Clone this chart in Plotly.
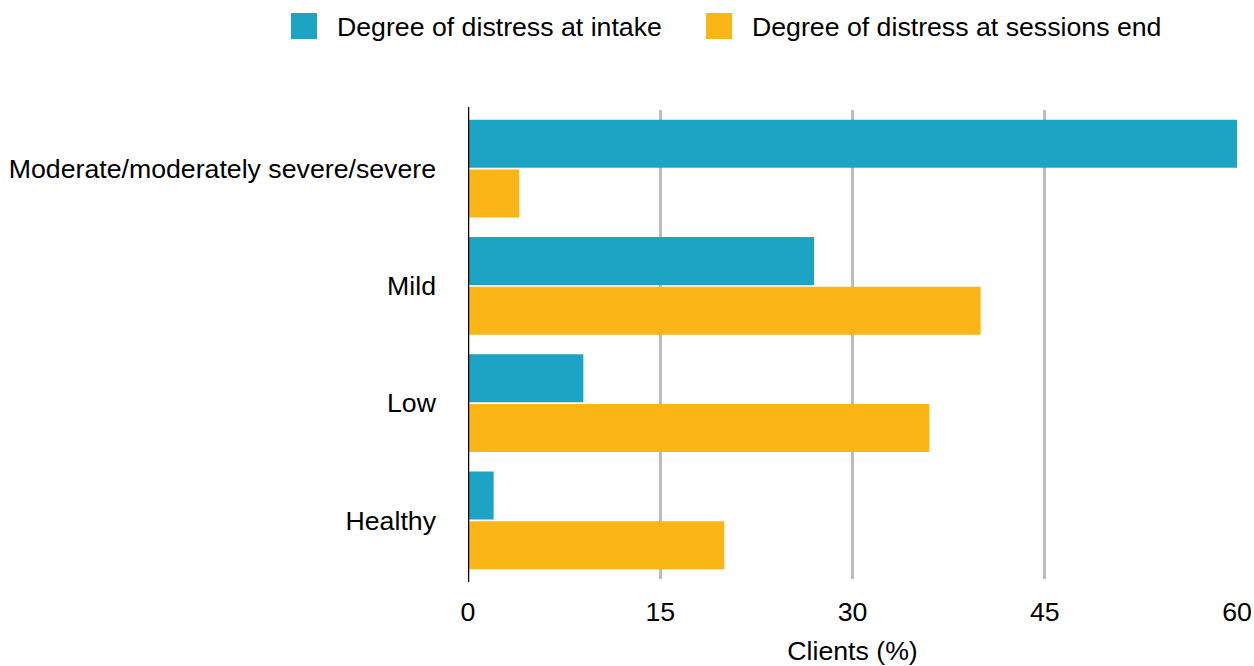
import plotly.graph_objects as go

categories = ["Moderate/moderately severe/severe", "Mild", "Low", "Healthy"]
intake = [60, 27, 9, 2]
sessions_end = [4, 40, 36, 20]
series_names = ["Degree of distress at intake", "Degree of distress at sessions end"]
colors = ["#1DA4C5", "#FBB517"]
x_ticks = [0, 15, 30, 45, 60]

W, H = 1254, 666
L, R, T, B = 468, 17, 110, 87
PW, PH = W - L - R, H - T - B

def px_x(px):
    return (px - L) / PW

def px_y(py):
    return (H - B - py) / PH

FONT = "Liberation Sans, Arial, Helvetica, sans-serif"
FS = 26.7

fig = go.Figure()
for name, vals, col in zip(series_names, [intake, sessions_end], colors):
    fig.add_trace(go.Bar(
        y=categories, x=vals, orientation="h", name=name,
        marker=dict(color=col, line=dict(width=0)), showlegend=False,
    ))

shapes = []
annotations = []
legend_pos = [(291, 335), (706, 750)]
for (sx, tx), name, col in zip(legend_pos, series_names, colors):
    shapes.append(dict(type="rect", xref="paper", yref="paper",
                       x0=px_x(sx), x1=px_x(sx + 26), y0=px_y(39), y1=px_y(13),
                       fillcolor=col, line=dict(width=0)))
    annotations.append(dict(text=name, xref="paper", yref="paper",
                            x=px_x(tx), y=px_y(27), xanchor="left", yanchor="middle",
                            showarrow=False, font=dict(family=FONT, size=FS, color="#000")))

# black vertical axis line slightly extending beyond the plot area
shapes.append(dict(type="line", xref="x", yref="paper", x0=0, x1=0,
                   y0=px_y(582), y1=px_y(107), line=dict(color="#000", width=2.5)))

fig.update_layout(
    width=W, height=H,
    margin=dict(l=L, r=R, t=T, b=B, autoexpand=False),
    paper_bgcolor="white", plot_bgcolor="white",
    barmode="group", bargap=0.15, bargroupgap=0.04,
    font=dict(family=FONT, size=FS, color="#000"),
    shapes=shapes, annotations=annotations,
    xaxis=dict(range=[0, 60], tickvals=x_ticks, ticktext=[str(v) for v in x_ticks],
               showgrid=True, gridcolor="#BDBDBD", gridwidth=2.5,
               zeroline=False, automargin=False,
               showline=False, ticks="", ticklabelstandoff=14,
               title=dict(text="Clients (%)", standoff=24,
                          font=dict(family=FONT, size=FS, color="#000")),
               tickfont=dict(family=FONT, size=FS, color="#000")),
    yaxis=dict(autorange="reversed", showgrid=False, showline=False, zeroline=False,
               ticks="", ticklabelstandoff=31, automargin=False,
               tickfont=dict(family=FONT, size=FS, color="#000")),
)

fig.write_html("out.html")
